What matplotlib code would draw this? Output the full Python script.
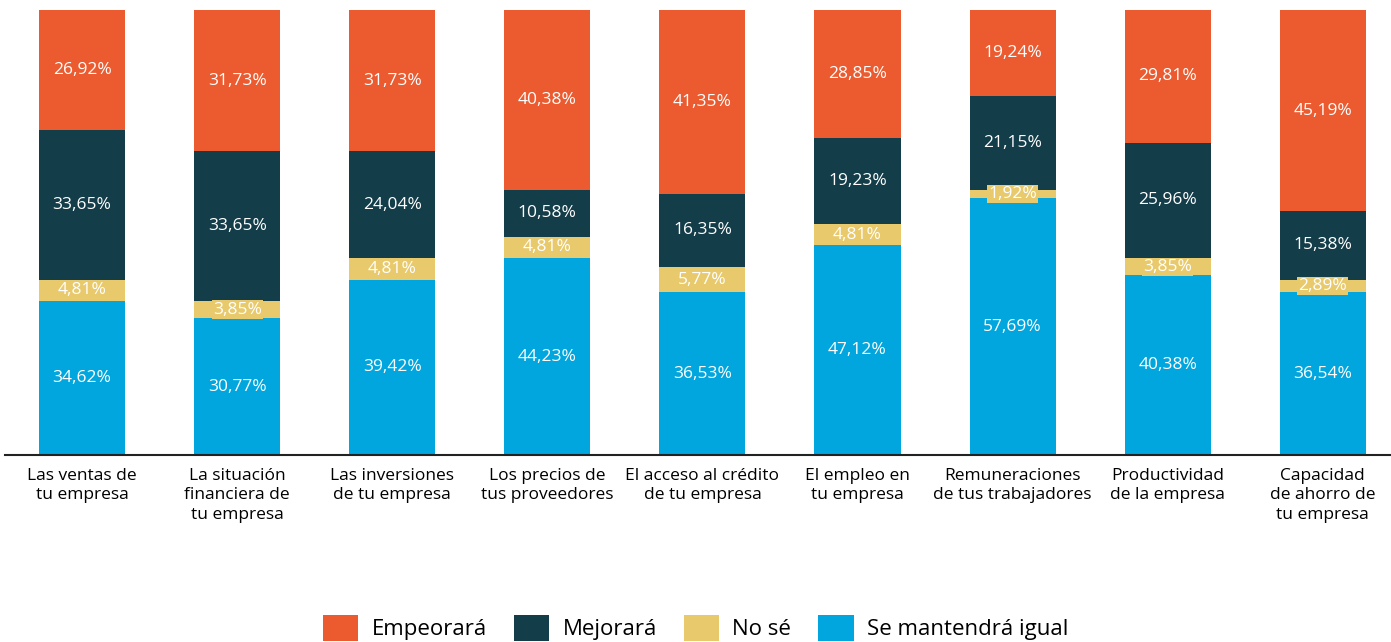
import matplotlib
matplotlib.use("Agg")
from matplotlib import pyplot as plt
from matplotlib.patches import Patch

plt.rcParams['font.family'] = ['Open Sans', 'DejaVu Sans']

categories = [
    "Las ventas de\ntu empresa",
    "La situación\nfinanciera de\ntu empresa",
    "Las inversiones\nde tu empresa",
    "Los precios de\ntus proveedores",
    "El acceso al crédito\nde tu empresa",
    "El empleo en\ntu empresa",
    "Remuneraciones\nde tus trabajadores",
    "Productividad\nde la empresa",
    "Capacidad\nde ahorro de\ntu empresa",
]

igual = [34.62, 30.77, 39.42, 44.23, 36.53, 47.12, 57.69, 40.38, 36.54]
no_se = [4.81, 3.85, 4.81, 4.81, 5.77, 4.81, 1.92, 3.85, 2.89]
mejorara = [33.65, 33.65, 24.04, 10.58, 16.35, 19.23, 21.15, 25.96, 15.38]
empeorara = [26.92, 31.73, 31.73, 40.38, 41.35, 28.85, 19.24, 29.81, 45.19]

series = [
    ("Se mantendrá igual", igual, "#00A6DD"),
    ("No sé", no_se, "#E8C96C"),
    ("Mejorará", mejorara, "#143D4A"),
    ("Empeorará", empeorara, "#EB5B2F"),
]

fig = plt.figure(figsize=(13.91, 6.42), dpi=100)
ax = fig.add_axes([4.5 / 1391, 1 - 455 / 642, 1 - 4.5 / 1391, 445 / 642])

x = list(range(len(categories)))
bottom = [0.0] * len(categories)
for name, vals, color in series:
    ax.bar(x, vals, width=0.555, bottom=bottom, color=color, label=name)
    for i, v in enumerate(vals):
        y = bottom[i] + v / 2
        txt = f"{v:.2f}%".replace(".", ",")
        if name == "No sé":
            ax.text(i, y, txt, ha="center", va="center", color="white", fontsize=12.5,
                    bbox=dict(facecolor=color, edgecolor="none", pad=0.8))
        else:
            ax.text(i, y, txt, ha="center", va="center", color="white", fontsize=12.5)
    bottom = [b + v for b, v in zip(bottom, vals)]

ax.set_xlim(-0.5, 8.44)
ax.set_ylim(0, 100)
ax.set_xticks(x)
ax.set_xticklabels(categories, fontsize=12.5, linespacing=1.3)
ax.tick_params(axis="x", length=0, pad=9)
ax.set_yticks([])
for s in ["top", "right", "left"]:
    ax.spines[s].set_visible(False)
ax.spines["bottom"].set_linewidth(1.5)
ax.spines["bottom"].set_color("#222222")

# legend order: Empeorará, Mejorará, No sé, Se mantendrá igual
handles = [Patch(facecolor=c, label=n) for n, _, c in reversed(series)]
fig.legend(handles=handles, loc="center", bbox_to_anchor=(0.5, 1 - 628 / 642), ncol=4,
           frameon=False, fontsize=16, handlelength=1.6, handleheight=1.4,
           handletextpad=0.6, columnspacing=1.2)

fig.savefig("out.png", dpi=100)
